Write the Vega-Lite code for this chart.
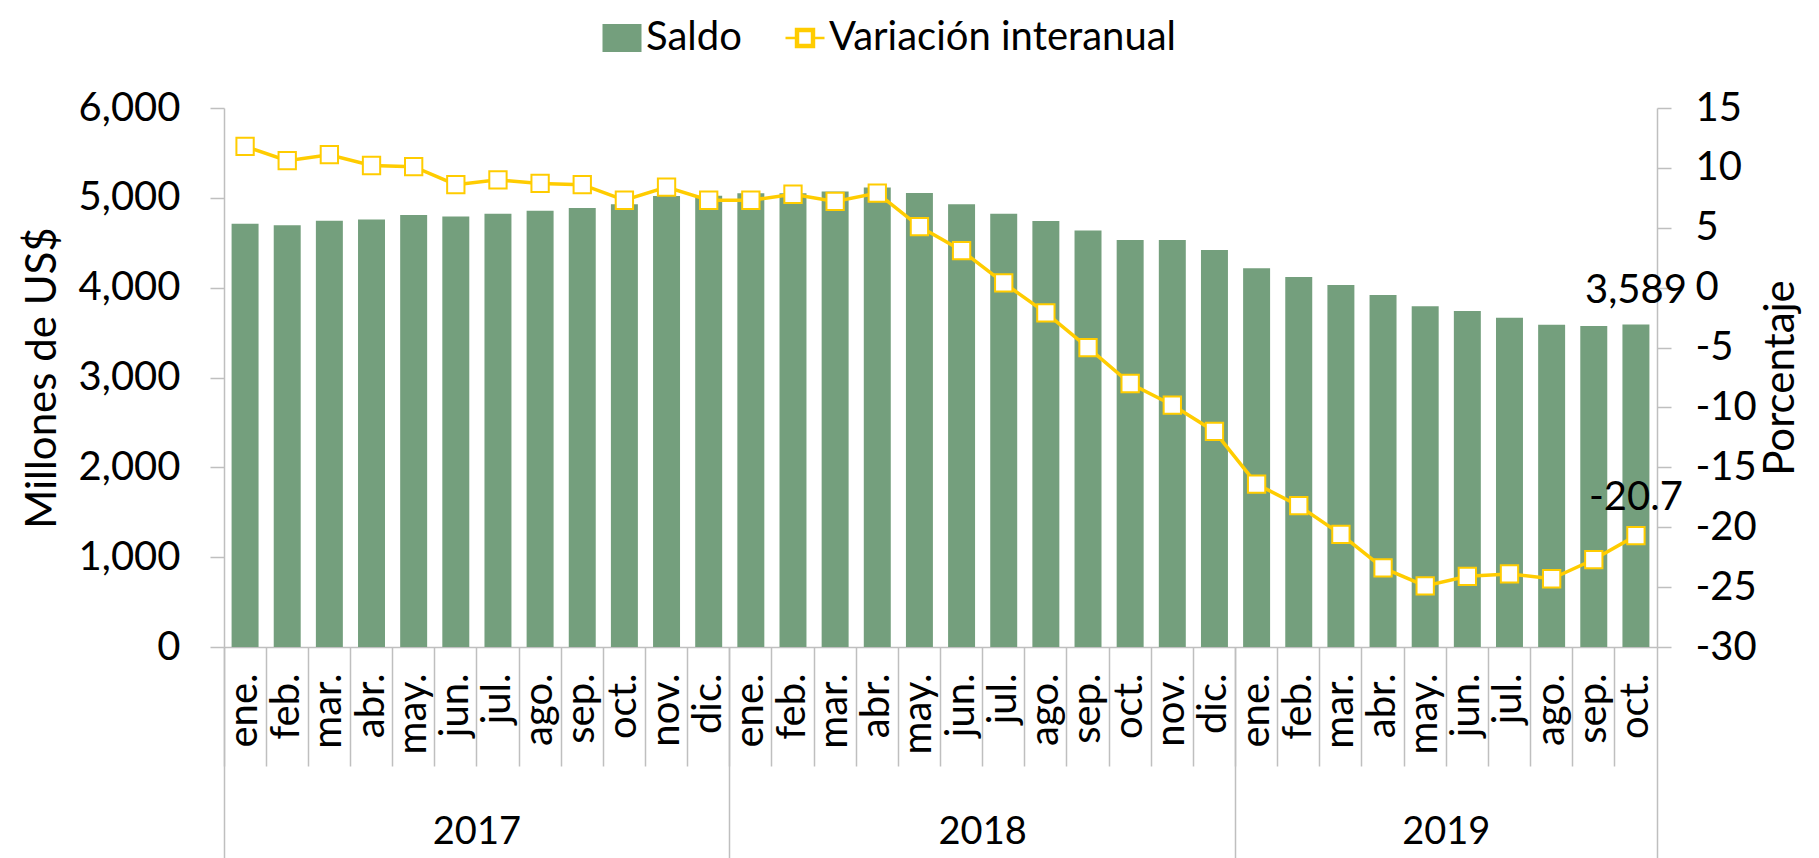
{
  "$schema": "https://vega.github.io/schema/vega-lite/v6.json",
  "width": 1433,
  "height": 539,
  "autosize": {"type": "none"},
  "padding": {"left": 224, "top": 108, "right": 162, "bottom": 211},
  "background": "white",
  "config": {
    "font": "Lato",
    "view": {"stroke": null},
    "axis": {
      "grid": false,
      "labelFont": "Lato",
      "titleFont": "Lato",
      "labelFontSize": 40,
      "titleFontSize": 42,
      "titleFontWeight": "normal",
      "labelColor": "#000000",
      "titleColor": "#000000",
      "domainColor": "#BFBFBF",
      "tickColor": "#BFBFBF",
      "domainWidth": 1.5,
      "tickWidth": 1.5
    }
  },
  "data": {
    "values": [
      {"mes": "2017-01", "saldo": 4711, "var": 11.8},
      {"mes": "2017-02", "saldo": 4695, "var": 10.6},
      {"mes": "2017-03", "saldo": 4745, "var": 11.1},
      {"mes": "2017-04", "saldo": 4760, "var": 10.2},
      {"mes": "2017-05", "saldo": 4808, "var": 10.1},
      {"mes": "2017-06", "saldo": 4792, "var": 8.6},
      {"mes": "2017-07", "saldo": 4824, "var": 9.0},
      {"mes": "2017-08", "saldo": 4855, "var": 8.7},
      {"mes": "2017-09", "saldo": 4887, "var": 8.6},
      {"mes": "2017-10", "saldo": 4928, "var": 7.3},
      {"mes": "2017-11", "saldo": 5020, "var": 8.4},
      {"mes": "2017-12", "saldo": 5022, "var": 7.3},
      {"mes": "2018-01", "saldo": 5052, "var": 7.3},
      {"mes": "2018-02", "saldo": 5050, "var": 7.8},
      {"mes": "2018-03", "saldo": 5070, "var": 7.2},
      {"mes": "2018-04", "saldo": 5115, "var": 7.9},
      {"mes": "2018-05", "saldo": 5055, "var": 5.1},
      {"mes": "2018-06", "saldo": 4928, "var": 3.1},
      {"mes": "2018-07", "saldo": 4822, "var": 0.4},
      {"mes": "2018-08", "saldo": 4742, "var": -2.1},
      {"mes": "2018-09", "saldo": 4636, "var": -5.0},
      {"mes": "2018-10", "saldo": 4530, "var": -8.0},
      {"mes": "2018-11", "saldo": 4530, "var": -9.8},
      {"mes": "2018-12", "saldo": 4420, "var": -12.0},
      {"mes": "2019-01", "saldo": 4216, "var": -16.4},
      {"mes": "2019-02", "saldo": 4118, "var": -18.2},
      {"mes": "2019-03", "saldo": 4030, "var": -20.6},
      {"mes": "2019-04", "saldo": 3917, "var": -23.4},
      {"mes": "2019-05", "saldo": 3793, "var": -24.9},
      {"mes": "2019-06", "saldo": 3741, "var": -24.1},
      {"mes": "2019-07", "saldo": 3666, "var": -23.9},
      {"mes": "2019-08", "saldo": 3588, "var": -24.3},
      {"mes": "2019-09", "saldo": 3574, "var": -22.7},
      {"mes": "2019-10", "saldo": 3589, "var": -20.7}
    ]
  },
  "layer": [
    {
      "mark": {"type": "bar", "width": {"band": 0.64}},
      "encoding": {
        "x": {
          "field": "mes", "type": "ordinal",
          "scale": {"type": "band", "paddingInner": 0, "paddingOuter": 0},
          "axis": {
            "orient": "bottom",
            "title": null, "labelAngle": -90, "labelAlign": "right", "labelBaseline": "middle",
            "ticks": false, "labelPadding": 26, "domain": true, "labelOverlap": false,
            "labelExpr": "['ene.','feb.','mar.','abr.','may.','jun.','jul.','ago.','sep.','oct.','nov.','dic.'][toNumber(substring(datum.value,5,7))-1]"
          }
        },
        "y": {
          "field": "saldo", "type": "quantitative",
          "scale": {"domain": [0, 6000], "nice": false},
          "axis": {
            "title": "Millones de US$", "values": [0, 1000, 2000, 3000, 4000, 5000, 6000],
            "labelExpr": "format(datum.value, ',')", "tickSize": 14, "labelPadding": 30, "titlePadding": 14
          }
        },
        "color": {
          "datum": "Saldo", "type": "nominal",
          "scale": {"domain": ["Saldo", "Variación interanual"], "range": ["#749F7D", "#FFCC00"]},
          "legend": {
            "orient": "none", "legendX": 378, "legendY": -90, "direction": "horizontal",
            "title": null, "labelFontSize": 40, "labelFont": "Lato",
            "labelColor": "#000000", "labelLimit": 800,
            "symbolSize": 1521, "columnPadding": 38, "labelOffset": 4,
            "encode": {
              "symbols": {
                "update": {
                  "shape": {"signal": "datum.label === 'Saldo' ? 'M-1,-0.72H1V0.72H-1Z' : 'M-1,0H-0.46M0.46,0H1M-0.46,-0.46H0.46V0.46H-0.46ZM-0.36,-0.36V0.36H0.36V-0.36Z'"},
                  "size": {"value": 1521},
                  "stroke": {"signal": "datum.label === 'Saldo' ? '#749F7D' : '#FFCC00'"},
                  "strokeWidth": {"signal": "datum.label === 'Saldo' ? 0 : 2.5"},
                  "opacity": {"value": 1}
                }
              }
            }
          }
        }
      }
    },
    {
      "mark": {"type": "line", "strokeWidth": 3.5, "color": "#FFCC00"},
      "encoding": {
        "x": {"field": "mes", "type": "ordinal", "scale": {"type": "band"}, "axis": null},
        "y": {
          "field": "var", "type": "quantitative",
          "scale": {"domain": [-30, 15], "nice": false, "zero": false},
          "axis": {
            "orient": "right", "title": "Porcentaje",
            "values": [-30, -25, -20, -15, -10, -5, 0, 5, 10, 15],
            "labelExpr": "replace(datum.label, '−', '-')",
            "tickSize": 14, "labelPadding": 24, "titlePadding": 46, "titleAngle": -90
          }
        }
      }
    },
    {
      "mark": {"type": "point", "shape": "square", "size": 300, "filled": true, "fill": "#FFFFFF", "stroke": "#FFCC00", "strokeWidth": 2, "opacity": 1},
      "encoding": {
        "x": {"field": "mes", "type": "ordinal", "scale": {"type": "band"}, "axis": null},
        "y": {"field": "var", "type": "quantitative", "scale": {"domain": [-30, 15], "nice": false, "zero": false}, "axis": null}
      }
    },
    {
      "transform": [{"filter": "datum.mes === '2019-10'"}],
      "mark": {"type": "text", "fontSize": 40, "dy": -22, "baseline": "alphabetic", "color": "#000000"},
      "encoding": {
        "x": {"field": "mes", "type": "ordinal", "scale": {"type": "band"}, "axis": null},
        "y": {"field": "saldo", "type": "quantitative", "scale": {"domain": [0, 6000], "nice": false}, "axis": null},
        "text": {"field": "saldo", "type": "quantitative", "format": ","}
      }
    },
    {
      "transform": [{"filter": "datum.mes === '2019-10'"}],
      "mark": {"type": "text", "fontSize": 40, "dy": -26, "baseline": "alphabetic", "color": "#000000"},
      "encoding": {
        "x": {"field": "mes", "type": "ordinal", "scale": {"type": "band"}, "axis": null},
        "y": {"field": "var", "type": "quantitative", "scale": {"domain": [-30, 15], "nice": false, "zero": false}, "axis": null},
        "text": {"field": "var", "type": "nominal"}
      }
    },
    {
      "mark": {"type": "rule", "opacity": 0},
      "encoding": {
        "x": {"field": "mes", "type": "ordinal", "scale": {"type": "band"},
          "axis": {"orient": "bottom", "title": null, "labels": false, "domain": false, "ticks": true, "bandPosition": 0, "tickSize": 119}}
      }
    },
    {
      "mark": {"type": "rule", "opacity": 0},
      "encoding": {
        "x": {"field": "mes", "type": "ordinal", "scale": {"type": "band"},
          "axis": {"orient": "bottom", "title": null, "labels": false, "domain": false, "ticks": true, "bandPosition": 0, "tickSize": 211, "values": ["2017-01", "2018-01", "2019-01"]}}
      }
    },
    {
      "mark": {"type": "rule", "opacity": 0},
      "encoding": {
        "x": {"field": "mes", "type": "ordinal", "scale": {"type": "band"},
          "axis": {"orient": "bottom", "title": null, "labels": false, "domain": false, "ticks": true, "bandPosition": 1, "tickSize": 211, "values": ["2019-10"]}}
      }
    },
    {
      "mark": {"type": "rule", "opacity": 0},
      "encoding": {
        "x": {"field": "mes", "type": "ordinal", "scale": {"type": "band"},
          "axis": {"orient": "bottom", "title": null, "labels": true, "domain": false, "ticks": false, "labelAngle": 0,
            "labelAlign": "center", "labelBaseline": "top", "labelPadding": 166, "labelOffset": -21.08,
            "labelFontSize": 38,
            "labelOverlap": false, "values": ["2017-07", "2018-07", "2019-06"],
            "labelExpr": "substring(datum.value, 0, 4)"}}
      }
    }
  ],
  "resolve": {
    "scale": {"y": "independent"},
    "axis": {"x": "independent", "y": "independent"}
  }
}
